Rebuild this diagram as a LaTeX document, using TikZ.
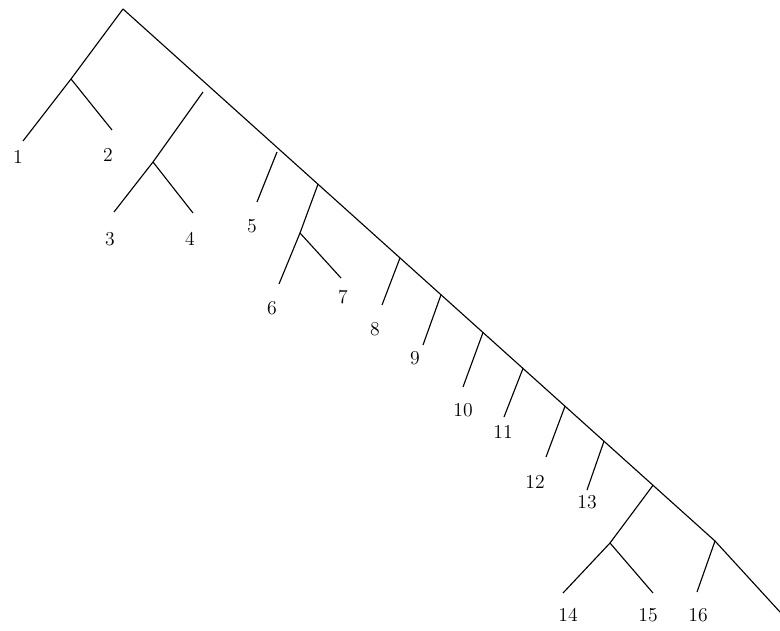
\documentclass[tikz,border=0pt]{standalone}
\usepackage{tikz}
\usetikzlibrary{positioning}

\begin{document}
\begin{tikzpicture}[
  x=0.025cm, y=-0.025cm,
  branch/.style={line width=0.8pt, line join=round},
  leaf/.style={font=\fontsize{14}{16}\selectfont, inner sep=1pt},
]
  \useasboundingbox (0,0) rectangle (780,630);
  % Root and spine points
  \coordinate (r) at (123,9);
  \coordinate (t34) at (203,92);
  \coordinate (t5) at (277,152);
  \coordinate (t67) at (318,184.2);
  \coordinate (t8) at (400,257.9);
  \coordinate (t9) at (441,294.8);
  \coordinate (t10) at (483,332.5);
  \coordinate (t11) at (523,368.4);
  \coordinate (t12) at (565,406.2);
  \coordinate (t13) at (604,441.2);
  \coordinate (t1415) at (653,485.3);
  \coordinate (t16) at (715,541);
  \coordinate (e) at (780,612);
  \draw[branch] (r) -- (t16) -- (e);
  % Subtree 1-2
  \coordinate (j12) at (71,79);
  \coordinate (e1) at (23,141);
  \coordinate (e2) at (112,130);
  \draw[branch] (r) -- (j12) -- (e1);
  \draw[branch] (j12) -- (e2);
  \node[leaf] (n1) at (18,157) {1};
  \node[leaf] (n2) at (108,155) {2};
  % Subtree 3-4
  \coordinate (j34) at (153,162);
  \coordinate (e3) at (114,212);
  \coordinate (e4) at (193,213);
  \draw[branch] (t34) -- (j34) -- (e3);
  \draw[branch] (j34) -- (e4);
  \node[leaf] (n3) at (110,239) {3};
  \node[leaf] (n4) at (190,239) {4};
  % Leaf 5
  \coordinate (e5) at (257,202);
  \draw[branch] (t5) -- (e5);
  \node[leaf] (n5) at (252,226) {5};
  % Subtree 6-7
  \coordinate (j67) at (300,233);
  \coordinate (e6) at (279,284);
  \coordinate (e7) at (341,278);
  \draw[branch] (t67) -- (j67) -- (e6);
  \draw[branch] (j67) -- (e7);
  \node[leaf] (n6) at (272,308) {6};
  \node[leaf] (n7) at (343,297) {7};
  % Leaves 8-13
  \coordinate (e8) at (382,305);
  \draw[branch] (t8) -- (e8);
  \node[leaf] (n8) at (375,329) {8};
  \coordinate (e9) at (423,345);
  \draw[branch] (t9) -- (e9);
  \node[leaf] (n9) at (415,358) {9};
  \coordinate (e10) at (463,387);
  \draw[branch] (t10) -- (e10);
  \node[leaf] (n10) at (463,410) {10};
  \coordinate (e11) at (504,417);
  \draw[branch] (t11) -- (e11);
  \node[leaf] (n11) at (503,432) {11};
  \coordinate (e12) at (546,457);
  \draw[branch] (t12) -- (e12);
  \node[leaf] (n12) at (535,482) {12};
  \coordinate (e13) at (587,490);
  \draw[branch] (t13) -- (e13);
  \node[leaf] (n13) at (587,502) {13};
  % Subtree 14-15
  \coordinate (j1415) at (610,543);
  \coordinate (e14) at (563,593);
  \coordinate (e15) at (653,593);
  \draw[branch] (t1415) -- (j1415) -- (e14);
  \draw[branch] (j1415) -- (e15);
  \node[leaf] (n14) at (568,615) {14};
  \node[leaf] (n15) at (648,615) {15};
  % Leaf 16
  \coordinate (e16) at (697,592);
  \draw[branch] (t16) -- (e16);
  \node[leaf] (n16) at (698,615) {16};
\end{tikzpicture}
\end{document}
